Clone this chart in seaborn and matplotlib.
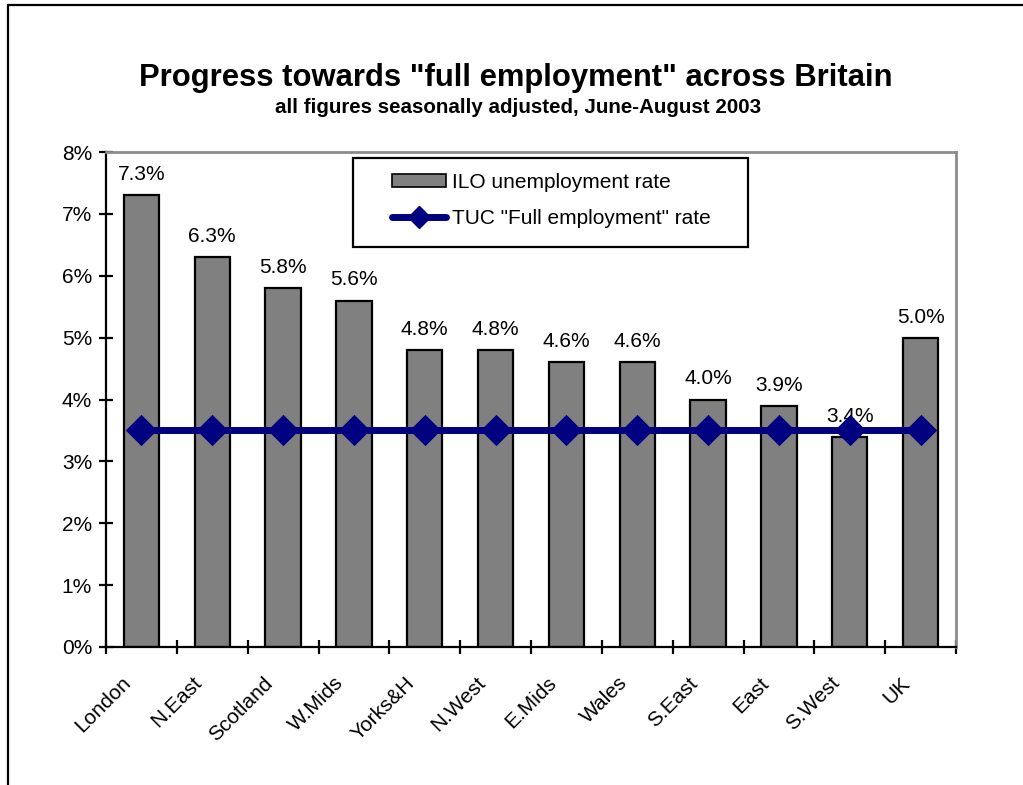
import matplotlib
matplotlib.use("Agg")
import matplotlib.pyplot as plt
from matplotlib.lines import Line2D
from matplotlib.patches import Patch, Rectangle
from matplotlib.ticker import FuncFormatter, FixedLocator
import seaborn as sns
import pandas as pd
import numpy as np

regions = ["London", "N.East", "Scotland", "W.Mids", "Yorks&H", "N.West",
           "E.Mids", "Wales", "S.East", "East", "S.West", "UK"]
ilo_rate = [7.3, 6.3, 5.8, 5.6, 4.8, 4.8, 4.6, 4.6, 4.0, 3.9, 3.4, 5.0]
full_employment_rate = [3.5] * len(regions)

df = pd.DataFrame({"region": regions, "ilo": ilo_rate, "full": full_employment_rate})

sns.set_theme(style="white")
plt.rcParams["font.family"] = ["Liberation Sans", "DejaVu Sans"]

FS = 15
W, H = 1023, 785
fig = plt.figure(figsize=(W / 100, H / 100), dpi=100)
ax = fig.add_axes([106 / W, 1 - 647 / H, 850 / W, 495 / H])

sns.barplot(data=df, x="region", y="ilo", color="#808080", saturation=1,
            width=0.5, edgecolor="black", linewidth=1.6, ax=ax, zorder=2)
for c in ax.containers:
    ax.bar_label(c, labels=[f"{v:.1f}%" for v in ilo_rate], padding=8,
                 fontsize=FS, color="black")

sns.pointplot(data=df, x="region", y="full", color="#000080", markers="D",
              linestyles="-", ax=ax, zorder=3,
              linewidth=5, markersize=12)

n = len(regions)
ax.set_ylim(0, 8)
ax.set_xlim(-0.5, n - 0.5)
ax.yaxis.set_major_locator(FixedLocator(range(0, 9)))
ax.yaxis.set_major_formatter(FuncFormatter(lambda v, p: f"{v:.0f}%"))
ax.set_xlabel("")
ax.set_ylabel("")

# category labels sit slightly left of each bar, slanted at 45 degrees
ax.set_xticks(np.arange(n) - 0.28)
ax.set_xticklabels(regions, rotation=45, ha="right", va="top",
                   rotation_mode="anchor", fontsize=FS, color="black")
ax.set_xticks(np.arange(n + 1) - 0.5, minor=True)
ax.tick_params(axis="x", which="major", length=0, pad=19)
ax.tick_params(axis="x", which="minor", direction="inout", length=10,
               width=1.6, color="black", bottom=True)
ax.tick_params(axis="y", which="major", direction="inout", length=10,
               width=1.6, color="black", left=True, labelsize=FS, pad=5,
               labelcolor="black")

for side in ["left", "bottom"]:
    ax.spines[side].set_color("black")
    ax.spines[side].set_linewidth(1.6)
for side in ["top", "right"]:
    ax.spines[side].set_color("#8c8c8c")
    ax.spines[side].set_linewidth(2)
    ax.spines[side].set_visible(True)

# legend box
ax.add_patch(Rectangle(((353 - 106) / 850, (647 - 247) / 495), 395 / 850, 89 / 495,
                       transform=ax.transAxes, facecolor="white", edgecolor="black",
                       linewidth=1.6, zorder=4))
handles = [
    Patch(facecolor="#808080", edgecolor="black", linewidth=1.2),
    Line2D([0], [0], color="#000080", lw=5, marker="D", markersize=11),
]
leg = ax.legend(handles, ["ILO unemployment rate", 'TUC "Full employment" rate'],
                loc="upper left", bbox_to_anchor=((392 - 106) / 850, (647 - 173) / 495),
                frameon=False, fontsize=FS, handlelength=2.6, handleheight=0.55,
                handletextpad=0.3, borderpad=0, labelspacing=0.82, borderaxespad=0)
leg.set_zorder(5)
for t in leg.get_texts():
    t.set_color("black")

fig.text(516 / W, 1 - 86 / H, 'Progress towards "full employment" across Britain',
         ha="center", va="baseline", fontsize=22.3, fontweight="bold", color="black")
fig.text(518 / W, 1 - 113 / H, "all figures seasonally adjusted, June-August 2003",
         ha="center", va="baseline", fontsize=14.8, fontweight="bold", color="black")

# outer chart frame
fig.add_artist(Line2D([8 / W, 1.0], [1 - 5 / H, 1 - 5 / H],
                      color="black", lw=1.6, transform=fig.transFigure))
fig.add_artist(Line2D([8 / W, 8 / W], [0.0, 1 - 5 / H],
                      color="black", lw=1.6, transform=fig.transFigure))

fig.savefig("out.png", dpi=100, facecolor="white")
